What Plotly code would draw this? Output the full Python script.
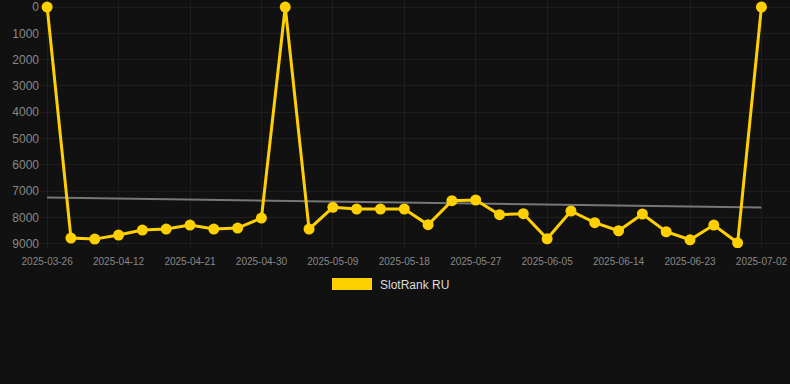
import plotly.graph_objects as go

dates = ["2025-03-26", "2025-04-06", "2025-04-09", "2025-04-12", "2025-04-15", "2025-04-18",
         "2025-04-21", "2025-04-24", "2025-04-27", "2025-04-30", "2025-05-03", "2025-05-06",
         "2025-05-09", "2025-05-12", "2025-05-15", "2025-05-18", "2025-05-21", "2025-05-24",
         "2025-05-27", "2025-05-30", "2025-06-02", "2025-06-05", "2025-06-08", "2025-06-11",
         "2025-06-14", "2025-06-17", "2025-06-20", "2025-06-23", "2025-06-26", "2025-06-29",
         "2025-07-02"]
rank_ru = [0, 8784, 8822, 8669, 8478, 8440, 8288, 8440, 8402, 8021, 0, 8440,
           7614, 7678, 7678, 7678, 8275, 7360, 7335, 7894, 7856, 8809, 7754, 8199,
           8504, 7868, 8542, 8847, 8288, 8962, 0]
trend_dates = ["2025-03-26", "2025-07-02"]
trend_values = [7240, 7620]
y_ticks = [0, 1000, 2000, 3000, 4000, 5000, 6000, 7000, 8000, 9000]
x_ticks = dates[::3]

fig = go.Figure()
fig.add_trace(go.Scatter(x=trend_dates, y=trend_values, mode="lines",
                         line=dict(color="#777777", width=2), showlegend=False, hoverinfo="skip"))
fig.add_trace(go.Scatter(x=dates, y=rank_ru, mode="lines+markers", name="SlotRank RU",
                         line=dict(color="#FFD000", width=3),
                         marker=dict(color="#FFD000", size=11), showlegend=False))

fig.update_layout(
    width=790, height=384,
    paper_bgcolor="#111111", plot_bgcolor="#111111",
    margin=dict(l=40, r=0, t=0, b=136),
    font=dict(family="Arial, Liberation Sans, sans-serif", color="#888888"),
    xaxis=dict(type="category", categoryorder="array", categoryarray=dates,
               tickmode="array", tickvals=x_ticks, ticktext=x_ticks,
               range=[-0.3, 31.2], showgrid=True, gridcolor="#1e1e1e", gridwidth=1,
               zeroline=False, showline=False, ticks="", ticklabelstandoff=6,
               tickfont=dict(size=10, color="#888888")),
    yaxis=dict(range=[9160, -267], tickmode="array", tickvals=y_ticks,
               showgrid=True, gridcolor="#1e1e1e", gridwidth=1, zeroline=False,
               showline=False, ticks="", tickfont=dict(size=12, color="#888888")),
    showlegend=False,
)

# legend swatch and label
fig.add_shape(type="rect", xref="paper", yref="paper",
              x0=(332 - 40) / 750, x1=(372 - 40) / 750,
              y0=(248 - 290) / 248, y1=(248 - 278) / 248,
              fillcolor="#FFD000", line=dict(width=0))
fig.add_annotation(xref="paper", yref="paper", x=(378 - 40) / 750, y=(248 - 285) / 248,
                   text="SlotRank RU", showarrow=False, xanchor="left", yanchor="middle",
                   font=dict(size=12, color="#dddddd"))

fig.write_html("out.html", config={"displayModeBar": False},
               post_script="document.body.style.margin='0';document.body.style.background='#111111';")
